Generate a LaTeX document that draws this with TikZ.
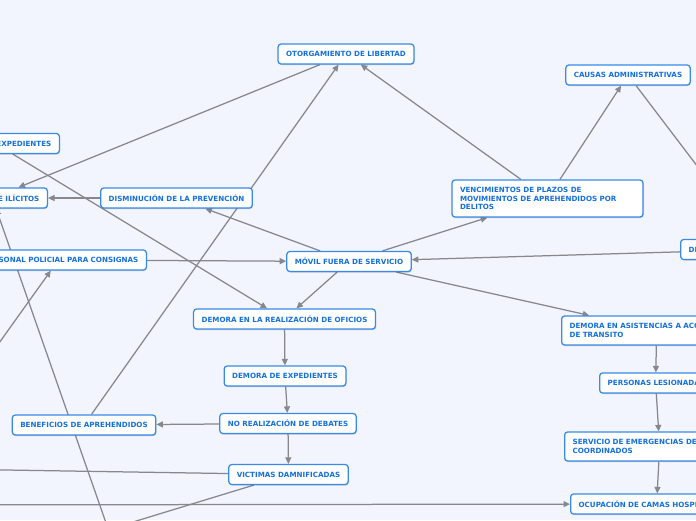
\documentclass[tikz,border=0pt]{standalone}
\usepackage{fontspec}
\newfontfamily\nodefont{DejaVu Sans}
\usetikzlibrary{arrows.meta,shadows}
\definecolor{bgc}{RGB}{242,245,253}
\definecolor{nodeborder}{RGB}{55,138,232}
\definecolor{nodetext}{RGB}{20,112,220}
\definecolor{edgec}{RGB}{135,135,140}
\pgfdeclarelayer{back}
\pgfdeclarelayer{edges}
\pgfsetlayers{back,edges,main}
\tikzset{
  box/.style={draw=nodeborder, line width=1.25pt, fill=white, rounded corners=3pt,
    text=nodetext, font=\nodefont\bfseries\fontsize{7.15}{8.7}\selectfont,
    inner xsep=8pt, inner ysep=0pt, minimum height=20pt,
    drop shadow={shadow xshift=0.5pt,shadow yshift=-1pt,opacity=0.18,fill=black}},
  link/.style={draw=edgec, line width=1.25pt, -{Triangle[length=6.5pt,width=6pt]}},
}
\begin{document}
\begin{tikzpicture}[x=1pt,y=-1pt]
\useasboundingbox (0,0) rectangle (696,520);
\begin{pgfonlayer}{back}
\fill[bgc] (0,0) rectangle (696,520);
\end{pgfonlayer}
% nodes
\node[box] (otorg) at (346,54) {OTORGAMIENTO DE LIBERTAD};
\node[box] (causas) at (628,75) {CAUSAS ADMINISTRATIVAS};
\node[box] (dismin) at (176.5,198) {DISMINUCIÓN DE LA PREVENCIÓN};
\node[box] (movil) at (349,261.5) {MÓVIL FUERA DE SERVICIO};
\node[box, text width=175pt, align=left, minimum height=37pt] (venc) at (547.5,198.5) {VENCIMIENTOS DE PLAZOS DE\\MOVIMIENTOS DE APREHENDIDOS POR\\DELITOS};
\node[box] (oficios) at (284.5,319) {DEMORA EN LA REALIZACIÓN DE OFICIOS};
\node[box] (demexp) at (285,376) {DEMORA DE EXPEDIENTES};
\node[box] (noreal) at (288,423.5) {NO REALIZACIÓN DE DEBATES};
\node[box] (benef) at (84,425) {BENEFICIOS DE APREHENDIDOS};
\node[box] (victimas) at (288.5,474.5) {VICTIMAS DAMNIFICADAS};
\node[box, anchor=east, text width=112pt, align=right] (exped) at (60,143.5) {EXPEDIENTES};
\node[box, anchor=east, text width=94pt, align=right] (ilicitos) at (48,198) {E ILÍCITOS};
\node[box, anchor=east, text width=160pt, align=right] (sonal) at (147,260) {SONAL POLICIAL PARA CONSIGNAS};
\node[box, anchor=west, text width=144pt, align=left] (de) at (680,249.5) {DE};
\node[box, anchor=west, text width=174pt, align=left, minimum height=29pt] (asist) at (561,330.5) {DEMORA EN ASISTENCIAS A ACC\\DE TRANSITO};
\node[box, anchor=west, text width=96pt, align=left] (personas) at (599,383) {PERSONAS LESIONADA};
\node[box, anchor=west, text width=174pt, align=left, minimum height=29pt] (servicio) at (564,446.5) {SERVICIO DE EMERGENCIAS DE\\COORDINADOS};
\node[box, anchor=west, text width=156pt, align=left] (ocup) at (570,504) {OCUPACIÓN DE CAMAS HOSPI};
% off-page ends
\coordinate (offA) at (-120,468);
\coordinate (offB) at (74,540);
\coordinate (offC) at (-120,505);
\coordinate (offD) at (112,540);
\coordinate (offE) at (-56,420);
% connectors
\begin{pgfonlayer}{edges}
\draw[link] (exped) -- (oficios);
\draw[link] (otorg) -- (ilicitos);
\draw[link] (dismin) -- (ilicitos);
\draw[link] (movil) -- (dismin);
\draw[link] (sonal) -- (movil);
\draw[link] (benef) -- (otorg);
\draw[link] (venc) -- (otorg);
\draw[link] (venc) -- (causas);
\draw[link] (causas) -- (de);
\draw[link] (movil) -- (venc);
\draw[link] (de) -- (movil);
\draw[link] (movil) -- (asist);
\draw[link] (movil) -- (oficios);
\draw[link] (oficios) -- (demexp);
\draw[link] (demexp) -- (noreal);
\draw[link] (noreal) -- (benef);
\draw[link] (noreal) -- (victimas);
\draw[link] (victimas) -- (offA);
\draw[link] (victimas) -- (offB);
\draw[link] (offC) -- (ocup);
\draw[link] (offD) -- (ilicitos);
\draw[link] (offE) -- (sonal);
\draw[link] (asist) -- (personas);
\draw[link] (personas) -- (servicio);
\draw[link] (servicio) -- (ocup);
\end{pgfonlayer}
\end{tikzpicture}
\end{document}
